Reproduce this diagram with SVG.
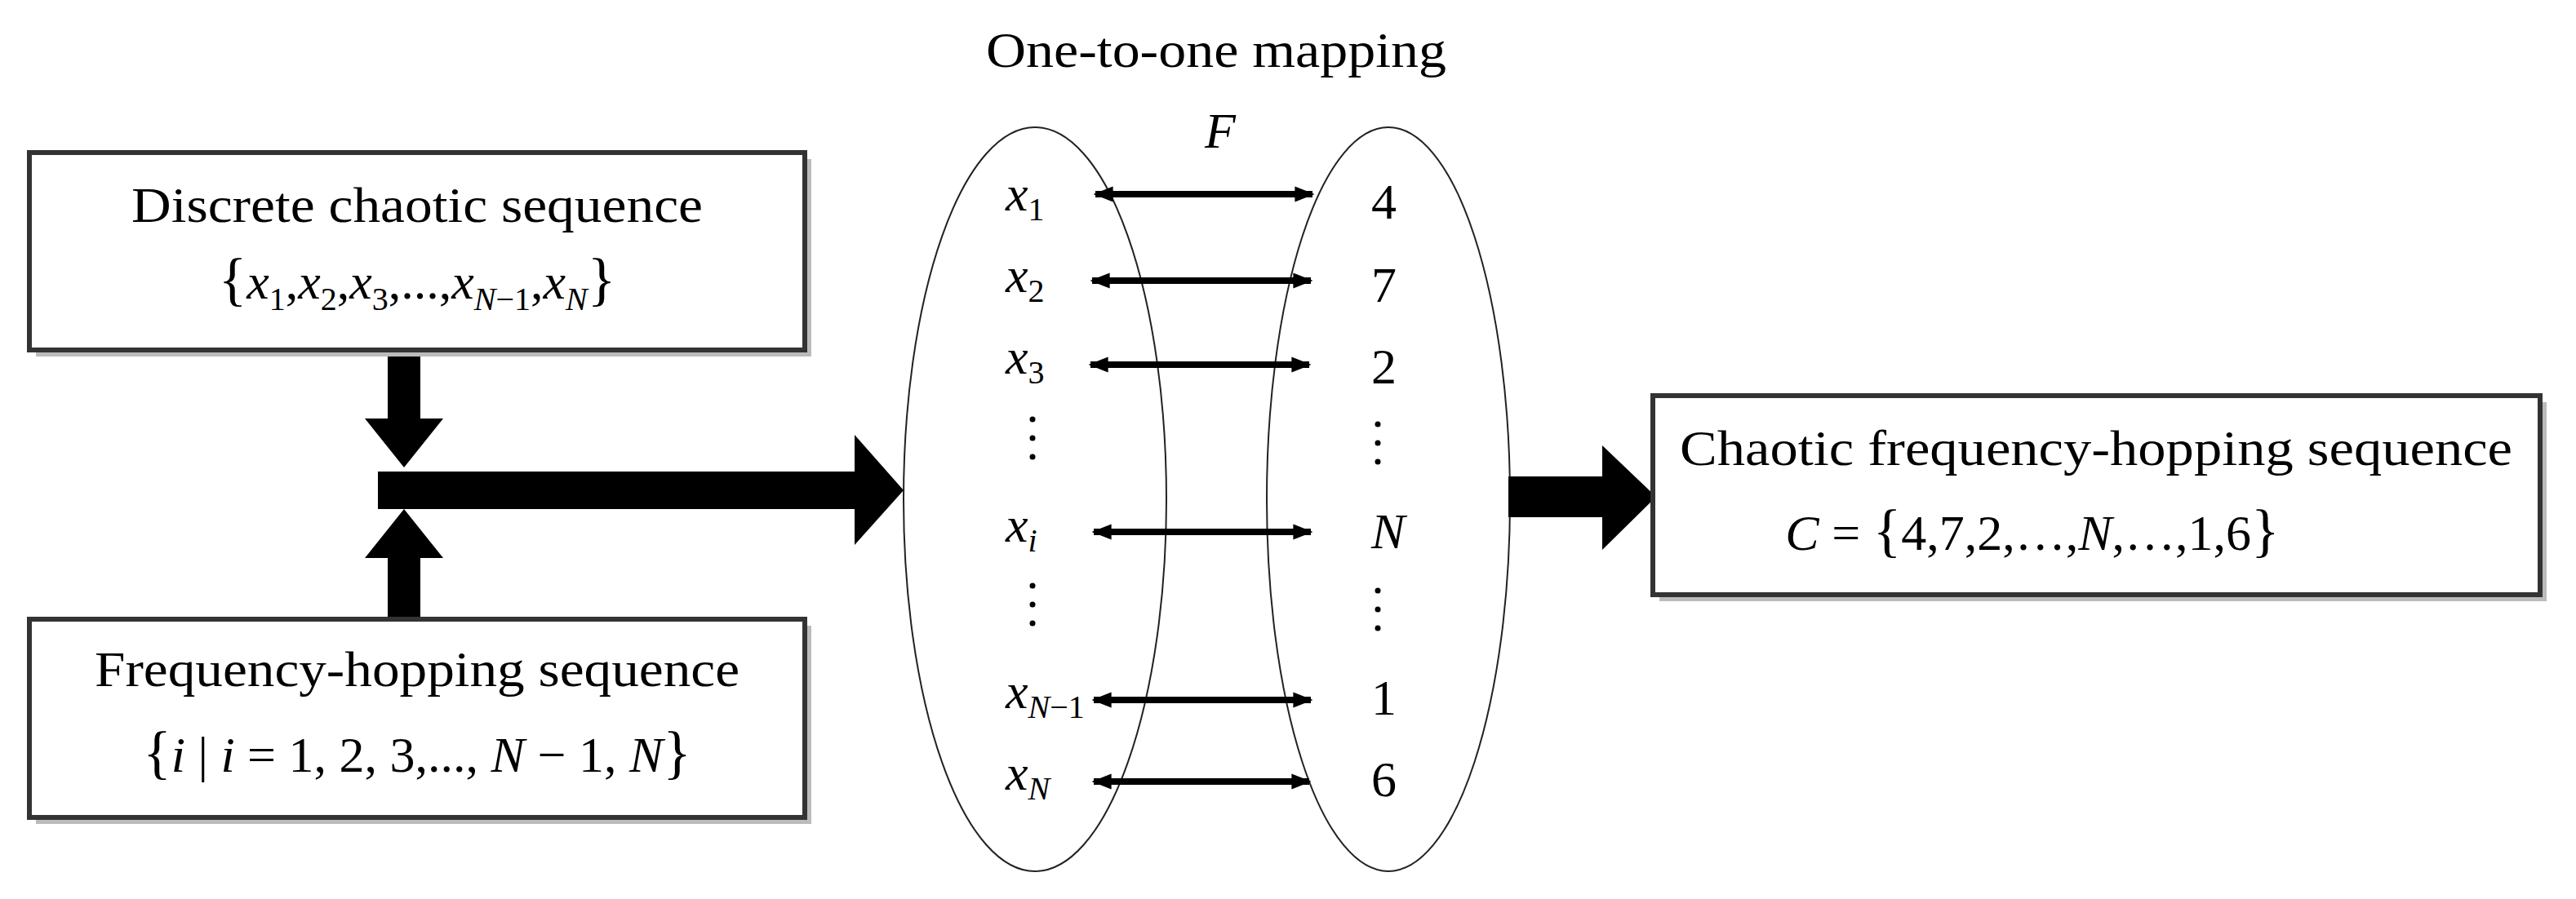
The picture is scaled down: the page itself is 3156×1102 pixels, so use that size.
<svg xmlns="http://www.w3.org/2000/svg" width="3156" height="1102" viewBox="0 0 3156 1102">
<style>
text{font-family:"Liberation Serif","Times New Roman",serif;fill:#000}
.lbl{font-size:62px}
.m{font-size:62px;font-style:italic}
.sub{font-size:40px}
.box{fill:#fff;stroke:#333;stroke-width:6}
.sh{fill:#bbb}
.ell{fill:none;stroke:#222;stroke-width:2}
.fat{fill:#000}
.map{stroke:#000;stroke-width:8;marker-start:url(#ah);marker-end:url(#ah)}
</style>
<defs>
<marker id="ah" viewBox="0 0 10 10" refX="9" refY="5" markerWidth="3" markerHeight="3" orient="auto-start-reverse"><path d="M0,1 L10,5 L0,9 z" fill="#000"/></marker>
</defs>
<g id="ellipses">
<ellipse class="ell" cx="1268" cy="612" rx="161" ry="456"/>
<ellipse class="ell" cx="1701" cy="612" rx="149" ry="456"/>
</g>
<g id="connectors">
<path class="fat" d="M475,429 H515 V513 H543 L495,573 L447,513 H475 Z"/>
<path class="fat" d="M475,759 H515 V684 H543 L495,624 L447,684 H475 Z"/>
<path class="fat" d="M463,578 H1047 V533 L1107,601 L1047,668 V624 H463 Z"/>
<path class="fat" d="M1848,584 H1963 V546 L2029,609 L1963,674 V634 H1848 Z"/>
<line class="map" x1="1342" y1="238" x2="1608" y2="238"/>
<line class="map" x1="1338" y1="344" x2="1606" y2="344"/>
<line class="map" x1="1336" y1="447" x2="1604" y2="447"/>
<line class="map" x1="1340" y1="652" x2="1606" y2="652"/>
<line class="map" x1="1340" y1="858" x2="1606" y2="858"/>
<line class="map" x1="1340" y1="958" x2="1604" y2="958"/>
</g>
<g id="box1">
<rect class="sh" x="44" y="195" width="950" height="242"/>
<rect class="box" x="36" y="187" width="950" height="242"/>
<text class="lbl" x="511" y="272" text-anchor="middle" textLength="700" lengthAdjust="spacingAndGlyphs">Discrete chaotic sequence</text>
<text x="511" y="366" text-anchor="middle" font-size="62"><tspan font-size="72">{</tspan><tspan font-style="italic">x</tspan><tspan class="sub" dy="14">1</tspan><tspan dy="-14">,</tspan><tspan font-style="italic">x</tspan><tspan class="sub" dy="14">2</tspan><tspan dy="-14">,</tspan><tspan font-style="italic">x</tspan><tspan class="sub" dy="14">3</tspan><tspan dy="-14">,...,</tspan><tspan font-style="italic">x</tspan><tspan class="sub" dy="14" font-style="italic">N</tspan><tspan class="sub" dy="0">−1</tspan><tspan dy="-14">,</tspan><tspan font-style="italic">x</tspan><tspan class="sub" dy="14" font-style="italic">N</tspan><tspan dy="-14" font-size="72">}</tspan></text>
</g>
<g id="box2">
<rect class="sh" x="44" y="767" width="950" height="243"/>
<rect class="box" x="36" y="759" width="950" height="243"/>
<text class="lbl" x="511" y="841" text-anchor="middle" textLength="790" lengthAdjust="spacingAndGlyphs">Frequency-hopping sequence</text>
<text x="511" y="946" text-anchor="middle" font-size="62"><tspan font-size="72">{</tspan><tspan font-style="italic">i</tspan> | <tspan font-style="italic">i</tspan> = 1, 2, 3,..., <tspan font-style="italic">N</tspan> − 1, <tspan font-style="italic">N</tspan><tspan font-size="72">}</tspan></text>
</g>
<g id="box3">
<rect class="sh" x="2033" y="493" width="1087" height="244"/>
<rect class="box" x="2025" y="485" width="1087" height="244"/>
<text class="lbl" x="2568" y="570" text-anchor="middle" textLength="1020" lengthAdjust="spacingAndGlyphs">Chaotic frequency-hopping sequence</text>
<text x="2490" y="674" text-anchor="middle" font-size="62"><tspan font-style="italic">C</tspan> = <tspan font-size="72">{</tspan>4,7,2,…,<tspan font-style="italic">N</tspan>,…,1,6<tspan font-size="72">}</tspan></text>
</g>
<g id="mapping">
<text class="lbl" x="1490" y="82" text-anchor="middle" textLength="564" lengthAdjust="spacingAndGlyphs">One-to-one mapping</text>
<text class="m" x="1495" y="181" text-anchor="middle" font-size="72">F</text>
<g class="m">
<text x="1232" y="258">x<tspan class="sub" font-style="normal" dy="12">1</tspan></text>
<text x="1232" y="358">x<tspan class="sub" font-style="normal" dy="12">2</tspan></text>
<text x="1232" y="458">x<tspan class="sub" font-style="normal" dy="12">3</tspan></text>
<text x="1232" y="664">x<tspan class="sub" dy="12">i</tspan></text>
<text x="1232" y="868">x<tspan class="sub" dy="12">N</tspan><tspan class="sub" font-style="normal">−1</tspan></text>
<text x="1232" y="968">x<tspan class="sub" dy="12">N</tspan></text>
</g>
<g class="lbl">
<text x="1680" y="268">4</text>
<text x="1680" y="370">7</text>
<text x="1680" y="470">2</text>
<text x="1680" y="672" font-style="italic">N</text>
<text x="1680" y="876">1</text>
<text x="1680" y="976">6</text>
</g>
<g fill="#000">
<circle cx="1265" cy="514" r="3.5"/><circle cx="1265" cy="537" r="3.5"/><circle cx="1265" cy="560" r="3.5"/>
<circle cx="1265" cy="718" r="3.5"/><circle cx="1265" cy="741" r="3.5"/><circle cx="1265" cy="764" r="3.5"/>
<circle cx="1688" cy="520" r="3.5"/><circle cx="1688" cy="543" r="3.5"/><circle cx="1688" cy="566" r="3.5"/>
<circle cx="1688" cy="724" r="3.5"/><circle cx="1688" cy="747" r="3.5"/><circle cx="1688" cy="770" r="3.5"/>
</g>
</g>
</svg>
